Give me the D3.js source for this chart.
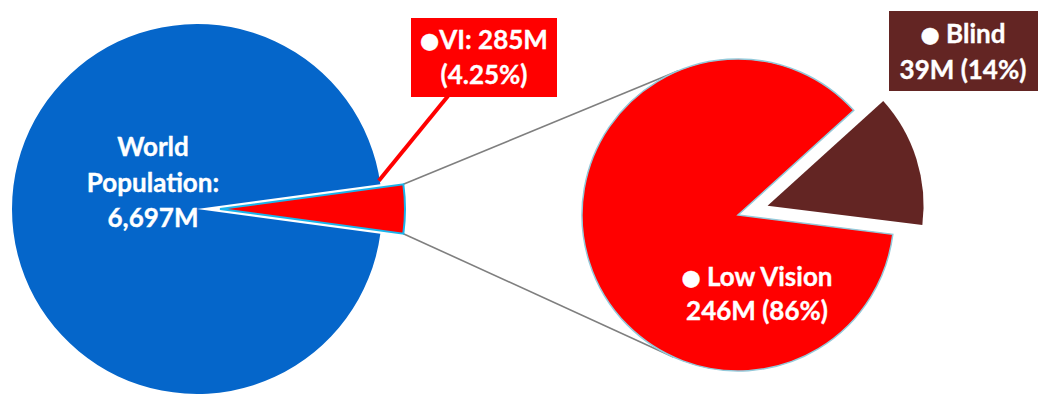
<!DOCTYPE html>
<html>
<head>
<meta charset="utf-8">
<script src="https://cdn.jsdelivr.net/npm/d3@7"></script>
<style>
  html, body { margin: 0; padding: 0; background: #ffffff; }
  svg { display: block; }
  text { font-family: Lato, "Open Sans", sans-serif; font-weight: 700; fill: #ffffff; stroke: #ffffff; stroke-width: 0.35px; }
</style>
</head>
<body>
<svg id="chart" width="1038" height="403"></svg>
<script>
// ---- data ----
const worldTotal = 6697;            // millions
const outerCategories = ["VI", "Rest of world"];
const outerValues = [285, worldTotal - 285];
const outerLabels = [["●VI: 285M", "(4.25%)"], ["World", "Population:", "6,697M"]];

const innerCategories = ["Blind", "Low Vision"];
const innerValues = [39, 246];
const innerLabels = [["● Blind", "39M (14%)"], ["● Low Vision", "246M (86%)"]];

// ---- layout / style ----
const W = 1038, H = 403;
const L = { cx: 197, cy: 209, r: 185, explode: 23 };
const R = { cx: 738, cy: 215, r: 156, explode: 31 };
const colors = { world: "#0566CA", vi: "#FF0000", low: "#FF0000", blind: "#632523",
                 viStroke: "#19B4EC", rightStroke: "#93C9DA", connector: "#7F7F7F" };
const deg = Math.PI / 180;

const svg = d3.select("#chart");

// ---- left pie ----
const outerSum = d3.sum(outerValues);
const viAngle = outerValues[0] / outerSum * 2 * Math.PI;
const leftPie = d3.pie().sort(null)
  .startAngle(Math.PI / 2 - viAngle / 2)
  .endAngle(Math.PI / 2 - viAngle / 2 + 2 * Math.PI);
const leftArcs = leftPie(outerValues);
const leftArc = d3.arc().innerRadius(0).outerRadius(L.r);

function offsetOf(a, e) {
  const m = (a.startAngle + a.endAngle) / 2;
  return [e * Math.sin(m), -e * Math.cos(m)];
}
function polar(cx, cy, r, ang) { return [cx + r * Math.sin(ang), cy - r * Math.cos(ang)]; }

// ---- right pie ----
const innerSum = d3.sum(innerValues);
const blindAngle = innerValues[0] / innerSum * 2 * Math.PI;
const blindCenter = 72.5 * deg;
const rightPie = d3.pie().sort(null)
  .startAngle(blindCenter - blindAngle / 2)
  .endAngle(blindCenter - blindAngle / 2 + 2 * Math.PI);
const rightArcs = rightPie(innerValues);
const rightArc = d3.arc().innerRadius(0).outerRadius(R.r);

// ---- connector lines (from exploded VI slice corners to tangent points of right pie) ----
const viArc = leftArcs[0];
const viOff = offsetOf(viArc, L.explode);
const cornerTop = polar(L.cx + viOff[0], L.cy + viOff[1], L.r, viArc.startAngle);
const cornerBot = polar(L.cx + viOff[0], L.cy + viOff[1], L.r, viArc.endAngle);
function tangentPoint(p, sign) {
  const dx = p[0] - R.cx, dy = p[1] - R.cy;
  const d = Math.hypot(dx, dy);
  const base = Math.atan2(dy, dx);
  const t = base + sign * Math.acos(R.r / d);
  return [R.cx + R.r * Math.cos(t), R.cy + R.r * Math.sin(t)];
}
const connectors = [[cornerTop, tangentPoint(cornerTop, 1)], [cornerBot, tangentPoint(cornerBot, -1)]];
svg.append("g").selectAll("line").data(connectors).join("line")
  .attr("x1", d => d[0][0]).attr("y1", d => d[0][1])
  .attr("x2", d => d[1][0]).attr("y2", d => d[1][1])
  .attr("stroke", colors.connector).attr("stroke-width", 1.6);

// draw left pie
const gl = svg.append("g").attr("transform", `translate(${L.cx},${L.cy})`);
gl.selectAll("path").data(leftArcs.slice().reverse()).join("path")
  .attr("d", leftArc)
  .attr("transform", d => d.index === 0 ? `translate(${offsetOf(d, L.explode)})` : null)
  .attr("fill", d => d.index === 0 ? colors.vi : colors.world)
  .attr("stroke", d => d.index === 0 ? colors.viStroke : "none")
  .attr("stroke-width", 2)
  .attr("stroke-linejoin", "miter");

// draw right pie
const gr = svg.append("g").attr("transform", `translate(${R.cx},${R.cy})`);
gr.selectAll("path").data(rightArcs).join("path")
  .attr("d", rightArc)
  .attr("transform", d => d.index === 0 ? `translate(${offsetOf(d, R.explode)})` : null)
  .attr("fill", d => d.index === 0 ? colors.blind : colors.low)
  .attr("stroke", d => d.index === 0 ? "none" : colors.rightStroke)
  .attr("stroke-width", 1.5);

// ---- labels ----
function writeLines(g, lines, x, y0, lh) {
  lines.forEach((s, i) => {
    const t = g.append("text").attr("x", x).attr("y", y0 + i * lh)
      .attr("text-anchor", "middle").attr("font-size", 26);
    if (s.startsWith("●")) {
      t.append("tspan").attr("font-size", 22).attr("font-family", "DejaVu Sans")
        .attr("dy", -1).text("●");
      t.append("tspan").attr("dy", 1).text(s.slice(1));
    } else {
      t.text(s);
    }
  });
}

// World label
writeLines(svg.append("g"), outerLabels[1], L.cx - 44, L.cy - 53, 35.5);

// Low vision label
writeLines(svg.append("g"), innerLabels[1], R.cx + 19, R.cy + 71, 34);

// VI label box + leader
const leaderEnd = polar(L.cx, L.cy, L.r - 1, viArc.startAngle - 1.2 * deg);
svg.append("line")
  .attr("x1", 448).attr("y1", 96).attr("x2", leaderEnd[0]).attr("y2", leaderEnd[1])
  .attr("stroke", colors.vi).attr("stroke-width", 4);
const gvi = svg.append("g");
gvi.append("rect").attr("x", 411).attr("y", 18).attr("width", 146).attr("height", 79).attr("fill", colors.vi);
writeLines(gvi, outerLabels[0], 484, 49, 35);

// Blind label box
const gb = svg.append("g");
gb.append("rect").attr("x", 889).attr("y", 11).attr("width", 149).attr("height", 80).attr("fill", colors.blind);
writeLines(gb, innerLabels[0], 963, 43, 36);
</script>
</body>
</html>
